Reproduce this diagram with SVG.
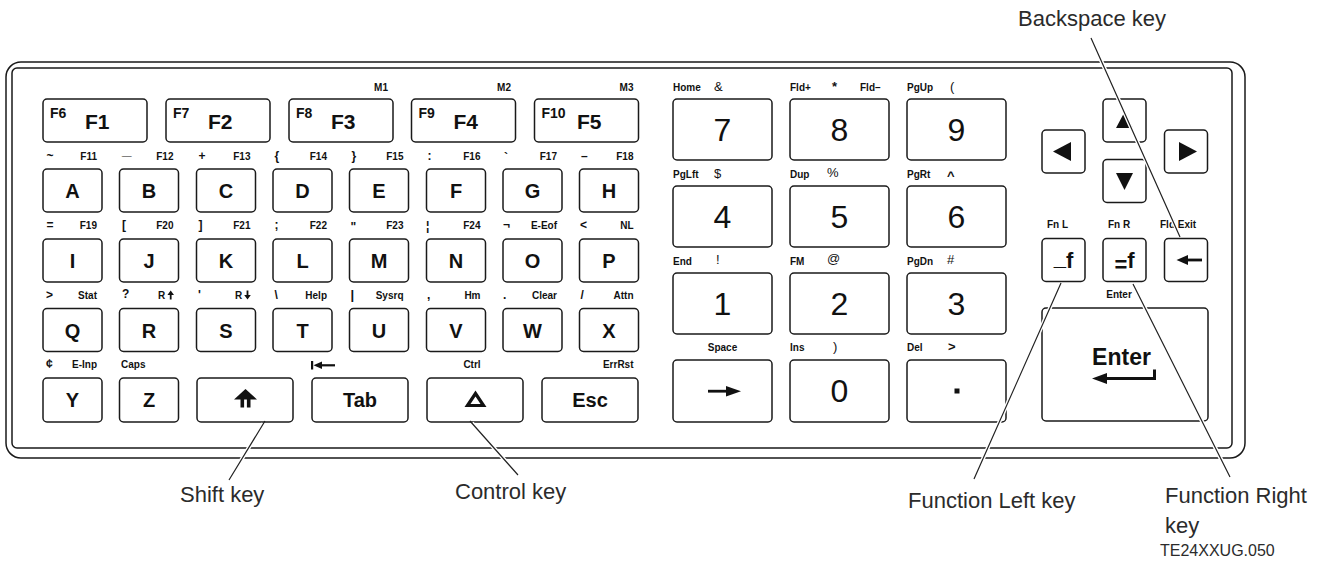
<svg xmlns="http://www.w3.org/2000/svg" width="1328" height="566" viewBox="0 0 1328 566">
<style>
text{font-family:"Liberation Sans",Arial,Helvetica,sans-serif;fill:#111}
.k{fill:#fff;stroke:#1a1a1a;stroke-width:1.5}
.fr{fill:none;stroke:#1a1a1a;stroke-width:1.5}
.L{font-size:20px;font-weight:bold;text-anchor:middle}
.fb{font-size:21px;font-weight:bold}
.fs{font-size:14px;font-weight:bold}
.sy{font-size:12px;font-weight:bold}
.sr{font-size:10px;font-weight:bold;text-anchor:end}
.sl{font-size:10px;font-weight:bold}
.sc{font-size:10px;font-weight:bold;text-anchor:middle}
.ns{font-size:13px}
.num{font-size:32px;text-anchor:middle}
.call{font-size:22px;fill:#2b2b2b}
.tag{font-size:16px;fill:#2b2b2b}
.g{fill:#111;stroke:none}
.halo{stroke:#fff;stroke-width:4;fill:none}
.lead{stroke:#222;stroke-width:1.2;fill:none}
</style>

<g id="frame">
<rect class="fr" x="6" y="62" width="1239" height="396" rx="15"/>
<rect class="fr" x="12" y="68" width="1220" height="380" rx="5"/>
</g>

<!-- Function keys -->
<g id="key-F1"><rect class="k" x="43" y="99" width="104" height="43" rx="4"/><text class="fs" x="50" y="118">F6</text><text class="fb" x="85" y="129">F1</text></g>
<g id="key-F2"><rect class="k" x="166" y="99" width="104" height="43" rx="4"/><text class="fs" x="173" y="118">F7</text><text class="fb" x="208" y="129">F2</text></g>
<g id="key-F3"><rect class="k" x="289" y="99" width="104" height="43" rx="4"/><text class="fs" x="296" y="118">F8</text><text class="fb" x="331" y="129">F3</text><text class="sr" x="388" y="91">M1</text></g>
<g id="key-F4"><rect class="k" x="411.5" y="99" width="104" height="43" rx="4"/><text class="fs" x="418.5" y="118">F9</text><text class="fb" x="453.5" y="129">F4</text><text class="sr" x="511" y="91">M2</text></g>
<g id="key-F5"><rect class="k" x="534.5" y="99" width="104" height="43" rx="4"/><text class="fs" x="541.5" y="118">F10</text><text class="fb" x="577" y="129">F5</text><text class="sr" x="633.5" y="91">M3</text></g>

<!-- Row A-H -->
<g id="key-A"><rect class="k" x="43" y="169" width="59" height="43" rx="4"/><text class="L" x="72.5" y="198">A</text><text class="sy" x="46.5" y="160">~</text><text class="sr" x="97" y="160">F11</text></g>
<g id="key-B"><rect class="k" x="119.5" y="169" width="59" height="43" rx="4"/><text class="L" x="149" y="198">B</text><text class="sy" x="122" y="155" style="font-size:17px">_</text><text class="sr" x="173.5" y="160">F12</text></g>
<g id="key-C"><rect class="k" x="196.5" y="169" width="59" height="43" rx="4"/><text class="L" x="226" y="198">C</text><text class="sy" x="198.5" y="160">+</text><text class="sr" x="250.5" y="160">F13</text></g>
<g id="key-D"><rect class="k" x="273" y="169" width="59" height="43" rx="4"/><text class="L" x="302.5" y="198">D</text><text class="sy" x="274.5" y="160">{</text><text class="sr" x="327" y="160">F14</text></g>
<g id="key-E"><rect class="k" x="349.5" y="169" width="59" height="43" rx="4"/><text class="L" x="379" y="198">E</text><text class="sy" x="351.5" y="160">}</text><text class="sr" x="403.5" y="160">F15</text></g>
<g id="key-F"><rect class="k" x="426.5" y="169" width="59" height="43" rx="4"/><text class="L" x="456" y="198">F</text><text class="sy" x="427.5" y="160">:</text><text class="sr" x="480.5" y="160">F16</text></g>
<g id="key-G"><rect class="k" x="503" y="169" width="59" height="43" rx="4"/><text class="L" x="532.5" y="198">G</text><text class="sy" x="504" y="162">`</text><text class="sr" x="557" y="160">F17</text></g>
<g id="key-H"><rect class="k" x="579.5" y="169" width="59" height="43" rx="4"/><text class="L" x="609" y="198">H</text><text class="sy" x="581" y="160">–</text><text class="sr" x="633.5" y="160">F18</text></g>

<!-- Row I-P -->
<g id="key-I"><rect class="k" x="43" y="239" width="59" height="43" rx="4"/><text class="L" x="72.5" y="268">I</text><text class="sy" x="46.5" y="229">=</text><text class="sr" x="97" y="229">F19</text></g>
<g id="key-J"><rect class="k" x="119.5" y="239" width="59" height="43" rx="4"/><text class="L" x="149" y="268">J</text><text class="sy" x="122" y="229">[</text><text class="sr" x="173.5" y="229">F20</text></g>
<g id="key-K"><rect class="k" x="196.5" y="239" width="59" height="43" rx="4"/><text class="L" x="226" y="268">K</text><text class="sy" x="198.5" y="229">]</text><text class="sr" x="250.5" y="229">F21</text></g>
<g id="key-L"><rect class="k" x="273" y="239" width="59" height="43" rx="4"/><text class="L" x="302.5" y="268">L</text><text class="sy" x="274.5" y="229">;</text><text class="sr" x="327" y="229">F22</text></g>
<g id="key-M"><rect class="k" x="349.5" y="239" width="59" height="43" rx="4"/><text class="L" x="379" y="268">M</text><text class="sy" x="350.5" y="231">"</text><text class="sr" x="403.5" y="229">F23</text></g>
<g id="key-N"><rect class="k" x="426.5" y="239" width="59" height="43" rx="4"/><text class="L" x="456" y="268">N</text><text class="sy" x="426" y="230">¦</text><text class="sr" x="480.5" y="229">F24</text></g>
<g id="key-O"><rect class="k" x="503" y="239" width="59" height="43" rx="4"/><text class="L" x="532.5" y="268">O</text><text class="sy" x="503" y="229">¬</text><text class="sr" x="557" y="229">E-Eof</text></g>
<g id="key-P"><rect class="k" x="579.5" y="239" width="59" height="43" rx="4"/><text class="L" x="609" y="268">P</text><text class="sy" x="580" y="229">&lt;</text><text class="sr" x="633.5" y="229">NL</text></g>

<!-- Row Q-X -->
<g id="key-Q"><rect class="k" x="43" y="308.5" width="59" height="43" rx="4"/><text class="L" x="72.5" y="337.5">Q</text><text class="sy" x="46" y="299">&gt;</text><text class="sr" x="97" y="299">Stat</text></g>
<g id="key-R"><rect class="k" x="119.5" y="308.5" width="59" height="43" rx="4"/><text class="L" x="149" y="337.5">R</text><text class="sy" x="122" y="298">?</text><text class="sl" x="158" y="299">R</text><path class="g" d="M170.7,290.5 L174,295 L171.6,295 L171.6,299.5 L169.8,299.5 L169.8,295 L167.4,295 Z"/></g>
<g id="key-S"><rect class="k" x="196.5" y="308.5" width="59" height="43" rx="4"/><text class="L" x="226" y="337.5">S</text><text class="sy" x="198" y="299">'</text><text class="sl" x="235" y="299">R</text><path class="g" d="M247.5,299.5 L250.8,295 L248.4,295 L248.4,290.5 L246.6,290.5 L246.6,295 L244.2,295 Z"/></g>
<g id="key-T"><rect class="k" x="273" y="308.5" width="59" height="43" rx="4"/><text class="L" x="302.5" y="337.5">T</text><text class="sy" x="274.5" y="299">\</text><text class="sr" x="327" y="299">Help</text></g>
<g id="key-U"><rect class="k" x="349.5" y="308.5" width="59" height="43" rx="4"/><text class="L" x="379" y="337.5">U</text><text class="sy" x="350.5" y="299" style="font-size:13px">|</text><text class="sr" x="403.5" y="299">Sysrq</text></g>
<g id="key-V"><rect class="k" x="426.5" y="308.5" width="59" height="43" rx="4"/><text class="L" x="456" y="337.5">V</text><text class="sy" x="427" y="299">,</text><text class="sr" x="480.5" y="299">Hm</text></g>
<g id="key-W"><rect class="k" x="503" y="308.5" width="59" height="43" rx="4"/><text class="L" x="532.5" y="337.5">W</text><text class="sy" x="503" y="299">.</text><text class="sr" x="557" y="299">Clear</text></g>
<g id="key-X"><rect class="k" x="579.5" y="308.5" width="59" height="43" rx="4"/><text class="L" x="609" y="337.5">X</text><text class="sy" x="580.5" y="299">/</text><text class="sr" x="633.5" y="299">Attn</text></g>

<!-- Bottom row -->
<g id="key-Y"><rect class="k" x="43" y="378" width="59" height="44" rx="4"/><text class="L" x="72.5" y="407">Y</text><text class="sy" x="46" y="368">¢</text><text class="sr" x="97" y="368">E-Inp</text></g>
<g id="key-Z"><rect class="k" x="119.5" y="378" width="59" height="44" rx="4"/><text class="L" x="149" y="407">Z</text><text class="sl" x="121" y="368">Caps</text></g>
<g id="key-Shift"><rect class="k" x="197" y="378" width="96" height="44" rx="4"/><path class="g" d="M245.5,389 L257,399.5 L234,399.5 Z"/><rect class="g" x="240.5" y="399" width="3.6" height="8.5"/><rect class="g" x="246.9" y="399" width="3.6" height="8.5"/></g>
<g id="key-Tab"><rect class="k" x="312" y="378" width="96" height="44" rx="4"/><text class="L" x="360" y="407">Tab</text><rect class="g" x="311" y="361" width="2.2" height="8.5"/><path class="g" d="M313.5,365.2 L322,361.5 L322,369 Z"/><rect class="g" x="321" y="364.2" width="14" height="2.2"/></g>
<g id="key-Ctrl"><rect class="k" x="427" y="378" width="96" height="44" rx="4"/><path d="M475.5,393.5 L467.5,405.5 L483.5,405.5 Z" fill="none" stroke="#111" stroke-width="3.2"/><text class="sc" x="472" y="368">Ctrl</text></g>
<g id="key-Esc"><rect class="k" x="542" y="378" width="96" height="44" rx="4"/><text class="L" x="590" y="407">Esc</text><text class="sr" x="633.5" y="368">ErrRst</text></g>

<!-- Numeric pad -->
<g id="key-7"><rect class="k" x="673" y="99" width="99" height="61" rx="4"/><text class="num" x="722.5" y="141">7</text><text class="sl" x="673" y="91">Home</text><text class="ns" x="714" y="91">&amp;</text></g>
<g id="key-8"><rect class="k" x="790" y="99" width="99" height="61" rx="4"/><text class="num" x="839.5" y="141">8</text><text class="sl" x="790" y="91">Fld+</text><text class="ns" x="832" y="91" style="font-weight:bold">*</text><text class="sl" x="860" y="91">Fld–</text></g>
<g id="key-9"><rect class="k" x="907" y="99" width="99" height="61" rx="4"/><text class="num" x="956.5" y="141">9</text><text class="sl" x="907" y="91">PgUp</text><text class="ns" x="950" y="91">(</text></g>
<g id="key-4"><rect class="k" x="673" y="186" width="99" height="61" rx="4"/><text class="num" x="722.5" y="228">4</text><text class="sl" x="673" y="178">PgLft</text><text class="ns" x="714" y="178">$</text></g>
<g id="key-5"><rect class="k" x="790" y="186" width="99" height="61" rx="4"/><text class="num" x="839.5" y="228">5</text><text class="sl" x="790" y="178">Dup</text><text class="ns" x="827" y="177">%</text></g>
<g id="key-6"><rect class="k" x="907" y="186" width="99" height="61" rx="4"/><text class="num" x="956.5" y="228">6</text><text class="sl" x="907" y="178">PgRt</text><text class="ns" x="947" y="180" style="font-weight:bold">^</text></g>
<g id="key-1"><rect class="k" x="673" y="273" width="99" height="61" rx="4"/><text class="num" x="722.5" y="315">1</text><text class="sl" x="673" y="265">End</text><text class="ns" x="716" y="264">!</text></g>
<g id="key-2"><rect class="k" x="790" y="273" width="99" height="61" rx="4"/><text class="num" x="839.5" y="315">2</text><text class="sl" x="790" y="265">FM</text><text class="ns" x="827" y="263">@</text></g>
<g id="key-3"><rect class="k" x="907" y="273" width="99" height="61" rx="4"/><text class="num" x="956.5" y="315">3</text><text class="sl" x="907" y="265">PgDn</text><text class="ns" x="947" y="264">#</text></g>
<g id="key-Space"><rect class="k" x="673" y="360" width="99" height="62" rx="4"/><rect class="g" x="708" y="389.8" width="20" height="2.8"/><path class="g" d="M741,391.2 L726,386 L726,396.4 Z"/><text class="sc" x="722.5" y="351">Space</text></g>
<g id="key-0"><rect class="k" x="790" y="360" width="99" height="62" rx="4"/><text class="num" x="839.5" y="402">0</text><text class="sl" x="790" y="351">Ins</text><text class="ns" x="833" y="351">)</text></g>
<g id="key-Del"><rect class="k" x="907" y="360" width="99" height="62" rx="4"/><rect class="g" x="954.5" y="388.5" width="5" height="5"/><text class="sl" x="907" y="351">Del</text><text class="ns" x="948" y="351" style="font-weight:bold">&gt;</text></g>

<!-- Cursor keys -->
<g id="key-Left"><rect class="k" x="1042" y="130" width="43" height="43" rx="4"/><path class="g" d="M1053,151.5 L1071,142 L1071,161 Z"/></g>
<g id="key-Up"><rect class="k" x="1103" y="99" width="43" height="43" rx="4"/><path class="g" d="M1124.5,112 L1133,128 L1116,128 Z"/></g>
<g id="key-Right"><rect class="k" x="1164.5" y="130" width="43" height="43" rx="4"/><path class="g" d="M1197,151.5 L1179,142 L1179,161 Z"/></g>
<g id="key-Down"><rect class="k" x="1103" y="159.5" width="43" height="43" rx="4"/><path class="g" d="M1124.5,190 L1116,173 L1133,173 Z"/></g>

<g id="key-FnL"><rect class="k" x="1042" y="238.5" width="43" height="43" rx="4"/><text class="L" x="1063.5" y="268" style="font-size:22px"><tspan dy="-3">_</tspan><tspan dy="3">f</tspan></text><text class="sl" x="1047" y="228">Fn L</text></g>
<g id="key-FnR"><rect class="k" x="1103" y="238.5" width="43" height="43" rx="4"/><text class="L" x="1124.5" y="268" style="font-size:22px"><tspan dy="3.5">=</tspan><tspan dy="-3.5">f</tspan></text><text class="sl" x="1108" y="228">Fn R</text></g>
<g id="key-Backspace"><rect class="k" x="1164.5" y="238.5" width="43" height="43" rx="4"/><path class="g" d="M1176.5,260 L1188,255 L1188,265 Z"/><rect class="g" x="1187" y="258.6" width="15" height="2.8"/><text class="sl" x="1160" y="228">Fld Exit</text></g>
<g id="key-Enter"><rect class="k" x="1042" y="308" width="166" height="113" rx="4"/><text class="L" x="1121.5" y="365" style="font-size:23px">Enter</text><path class="g" d="M1092,378.5 L1107,373 L1107,384 Z"/><rect class="g" x="1106" y="377" width="50" height="3"/><rect class="g" x="1153" y="369.5" width="3" height="10.5"/><text class="sc" x="1119" y="298">Enter</text></g>

<!-- Leader lines -->
<g id="connectors">
<path class="halo" d="M1091,38 L1178.4,233.3 M263.4,423.6 L229,480 M472,423.2 L518,475 M1059.8,285.7 L974,479 M1134.3,286.7 L1230,477"/>
<path class="lead" d="M1091,38 L1180,237 M265,421 L229,480 M470,421 L518,475 M1061,283 L974,479 M1133,284 L1230,477"/>
</g>

<!-- Callout labels -->
<g id="labels">
<text class="call" x="1018" y="26">Backspace key</text>
<text class="call" x="180" y="502">Shift key</text>
<text class="call" x="455" y="499">Control key</text>
<text class="call" x="908" y="508">Function Left key</text>
<text class="call" x="1165" y="503">Function Right</text>
<text class="call" x="1165" y="533">key</text>
<text class="tag" x="1160" y="556">TE24XXUG.050</text>
</g>
</svg>
